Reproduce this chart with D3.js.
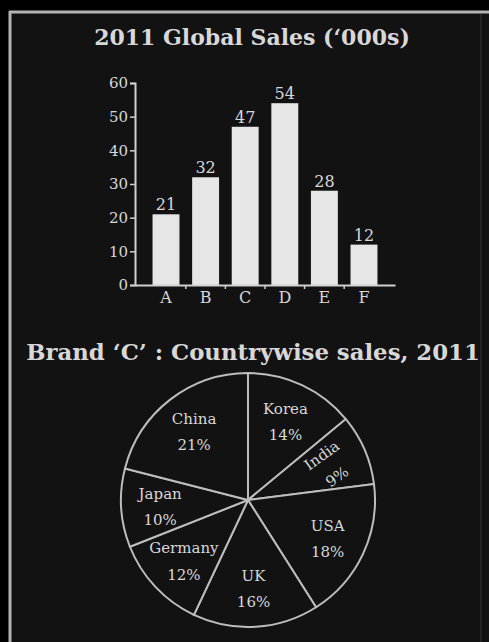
<!DOCTYPE html>
<html>
<head>
<meta charset="utf-8">
<script src="https://cdn.jsdelivr.net/npm/d3@7"></script>
<style>
  html, body { margin: 0; padding: 0; background: #000; }
  svg { display: block; }
  text { font-family: "DejaVu Serif", "Liberation Serif", serif; fill: #d8d8d8; }
</style>
</head>
<body>
<script>
// Bar chart: 2011 global sales by brand ('000s)
const brands = ["A", "B", "C", "D", "E", "F"];
const sales = [21, 32, 47, 54, 28, 12];
const yTicks = [0, 10, 20, 30, 40, 50, 60];

// Pie chart: brand C sales by country (%)
const countries = ["Korea", "India", "USA", "UK", "Germany", "Japan", "China"];
const shares = [14, 9, 18, 16, 12, 10, 21];

const width = 489, height = 642;

const svg = d3.select("body").append("svg")
  .attr("width", width)
  .attr("height", height);

// Dark panel with a light frame (top + left), bottom runs off the page
svg.append("rect")
  .attr("x", 10).attr("y", 12)
  .attr("width", width - 10).attr("height", height - 12)
  .attr("fill", "#121212");
svg.append("line")
  .attr("x1", 9).attr("x2", width).attr("y1", 12).attr("y2", 12)
  .attr("stroke", "#b4b4b4").attr("stroke-width", 3);
svg.append("line")
  .attr("x1", 10).attr("x2", 10).attr("y1", 11).attr("y2", height)
  .attr("stroke", "#b4b4b4").attr("stroke-width", 3);
svg.append("line")
  .attr("x1", 481).attr("x2", 481).attr("y1", 14).attr("y2", height)
  .attr("stroke", "#2a2a2a").attr("stroke-width", 1.5);

// ---------------- bar chart ----------------
svg.append("text")
  .attr("x", 252).attr("y", 45)
  .attr("text-anchor", "middle")
  .style("font-size", "22px").style("font-weight", "bold")
  .text("2011 Global Sales (\u2018000s)");

let x = d3.scaleBand()
  .domain(brands)
  .range([135, 395])
  .paddingInner(0.32)
  .paddingOuter(0.443);

let y = d3.scaleLinear()
  .domain([0, 60])
  .range([285, 83]);

let bars = svg.append("g");

bars.selectAll("rect")
  .data(sales)
  .enter().append("rect")
  .attr("x", (d, i) => x(brands[i]))
  .attr("y", d => y(d))
  .attr("width", x.bandwidth())
  .attr("height", d => y(0) - y(d))
  .attr("fill", "#e6e6e6");

bars.selectAll(".val")
  .data(sales)
  .enter().append("text")
  .attr("class", "val")
  .attr("x", (d, i) => x(brands[i]) + x.bandwidth() / 2)
  .attr("y", d => y(d) - 4)
  .attr("text-anchor", "middle")
  .style("font-size", "16px")
  .text(d => d);

// y axis
let yAxis = svg.append("g")
  .attr("transform", "translate(135,0)")
  .call(d3.axisLeft(y).tickValues(yTicks).tickSize(5).tickPadding(2));
yAxis.select(".domain").attr("stroke", "#cfcfcf").attr("stroke-width", 2);
yAxis.selectAll(".tick line").attr("stroke", "#cfcfcf").attr("stroke-width", 1.5);
yAxis.selectAll(".tick text")
  .style("font-size", "15px")
  .style("font-family", "'DejaVu Serif', serif")
  .attr("fill", "#d8d8d8");

// x axis, ticks sit between the bars
let xAxis = svg.append("g")
  .attr("transform", "translate(0," + y(0) + ")")
  .call(d3.axisBottom(x).tickSize(0).tickPadding(7));
xAxis.select(".domain").attr("stroke", "#cfcfcf").attr("stroke-width", 2);
xAxis.selectAll(".tick text")
  .style("font-size", "16px")
  .style("font-family", "'DejaVu Serif', serif")
  .attr("fill", "#d8d8d8");
xAxis.selectAll(".gap")
  .data(brands.slice(1))
  .enter().append("line")
  .attr("class", "gap")
  .attr("x1", d => x(d) - x.step() * x.paddingInner() / 2)
  .attr("x2", d => x(d) - x.step() * x.paddingInner() / 2)
  .attr("y1", 0).attr("y2", 4)
  .attr("stroke", "#cfcfcf").attr("stroke-width", 1.5);

// ---------------- pie chart ----------------
svg.append("text")
  .attr("x", 253).attr("y", 360)
  .attr("text-anchor", "middle")
  .style("font-size", "22.8px").style("font-weight", "bold")
  .text("Brand \u2018C\u2019 : Countrywise sales, 2011");

const radius = 127;
let pieG = svg.append("g").attr("transform", "translate(248,500)");

let pie = d3.pie().sort(null).value(d => d);
let arcs = pie(shares);

let arc = d3.arc().innerRadius(0).outerRadius(radius);
let labelArc = d3.arc().innerRadius(88).outerRadius(88);

pieG.selectAll("path")
  .data(arcs)
  .enter().append("path")
  .attr("d", arc)
  .attr("fill", "#121212")
  .attr("stroke", "#bdbdbd")
  .attr("stroke-width", 2);

let labels = pieG.selectAll(".lab")
  .data(arcs)
  .enter().append("text")
  .attr("class", "lab")
  .attr("transform", d => {
    let c = labelArc.centroid(d);
    // narrow slices get their label turned along the wedge
    let rot = d.data < 10 ? -36 : 0;
    return "translate(" + c[0] + "," + c[1] + ") rotate(" + rot + ")";
  })
  .attr("text-anchor", "middle")
  .style("font-size", "15px")
  .attr("fill", "#d0d0d0");

labels.append("tspan")
  .attr("x", 0).attr("dy", "-0.45em")
  .text((d, i) => countries[i]);
labels.append("tspan")
  .attr("x", 0).attr("dy", "1.75em")
  .text(d => d.data + "%");
</script>
</body>
</html>
